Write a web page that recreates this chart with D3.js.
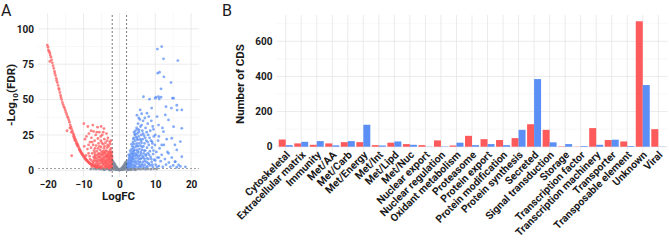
<!DOCTYPE html>
<html>
<head>
<meta charset="utf-8">
<script src="https://cdn.jsdelivr.net/npm/d3@7"></script>
<style>
  body { margin: 0; background: #fff; }
  text { font-family: Roboto, 'Noto Sans', sans-serif; fill: #1a1a1a; }
</style>
</head>
<body>
<script>
// ---- panel A: volcano points [logFC, -log10 FDR] ----
const downGenes = [
  [-20.1,88.5],[-19.9,87],[-19.8,85],[-19.6,84],[-19.4,83],[-19.3,81.5],[-19.4,77],[-19.1,80],[-18.9,78],[-18.7,76],
  [-18.5,74],[-18.3,72],[-18.1,70],[-18,68.5],[-17.8,67],[-17.6,65],[-17.5,63.5],[-17.3,62],[-17.1,60],[-16.9,58],
  [-16.8,57],[-16.6,55],[-16.4,53],[-16.3,51.5],[-16.1,50],[-15.9,48],[-15.7,46.5],[-15.5,45],[-15.3,44],[-15.1,42.5],
  [-14.9,41],[-14.7,39.5],[-14.5,38],[-14.3,37],[-14.1,35.5],[-13.9,34],[-13.7,32],[-13.5,30.5],[-13.3,29],[-13.1,27.5],
  [-12.9,26],[-12.7,25],[-12.5,23.5],[-12.3,22],[-12.1,21],[-11.9,19.5],[-11.7,18.5],[-11.5,17.5],[-11.3,16],[-11.1,15],
  [-10.9,14],[-10.7,13],[-10.5,12],[-10.3,11.5],[-10.1,10.8],[-9.9,10],[-9.7,9.2],[-9.5,8.5],[-9.3,7.8],[-9.1,7.2],
  [-8.9,6.6],[-8.7,6],[-8.5,5.5],[-8.3,5],[-8.1,4.6],[-7.9,4.2],[-7.7,3.9],[-7.5,3.6],[-7.3,3.3],[-7.1,3],
  [-6.9,2.8],[-6.7,2.6],[-6.5,2.4],[-6.3,2.2],[-6.1,2.1],[-5.9,2],[-5.7,1.9],[-5.5,1.8],
  [-13.8,30],[-13.4,27],[-12.8,24],[-12.4,21],[-12,19],[-11.6,17],[-11.2,14.5],[-10.8,13],[-10.4,11],[-10,9.5],
  [-9.6,8],[-9.2,7],[-8.8,6],[-8.4,5.2],[-8,4.4],[-7.6,3.7],[-7.2,3.2],[-6.8,2.9],[-6.4,2.6],[-6,2.4],
  [-12.6,22.5],[-11.8,18],[-11,14],[-10.6,12.2],[-13.3,10.3],[-14.6,28],
  [-9.9,33],[-8.8,31],[-7.4,32],[-6.1,30.5],[-5.1,31],[-4.3,29.5],[-9.6,22],[-9.8,17],[-8.5,26],[-7.2,27.5],
  [-6.6,25],[-5.6,27],[-4.8,25],[-3.6,26],[-8.9,15],[-8.2,20],[-7.8,23],[-6.9,21],[-6,22.5],[-5.2,21],
  [-4.2,22],[-3.4,21],[-2.6,18.5],[-8.6,12],[-7.9,16],[-7.3,18],[-6.5,17.5],[-5.8,19],[-4.5,18.5],[-3.9,19.5],
  [-3,17],[-2.3,15.5],
  [-9.3,10.5],[-8.3,10],[-7.6,12],[-7.1,14],[-6.8,11],[-6.3,13.5],[-6,15.5],[-5.7,12],[-5.4,14.5],[-5.1,16.5],
  [-4.9,11],[-4.6,13.5],[-4.3,15.5],[-4,12],[-3.7,14],[-3.4,16],[-3.2,11],[-2.9,13],[-2.6,14.5],[-2.3,12],[-2.1,10],
  [-7.4,5],[-7,7],[-6.7,4.5],[-6.5,8.5],[-6.2,6],[-6,3.5],[-5.9,9.5],[-5.7,7],[-5.5,4.5],[-5.4,10],
  [-5.2,8],[-5,5.5],[-4.9,3],[-4.8,9],[-4.6,6.5],[-4.5,4],[-4.4,10.5],[-4.2,8],[-4.1,2.5],[-4,5.5],
  [-3.9,9.5],[-3.8,7],[-3.7,3.5],[-3.6,11],[-3.5,5],[-3.4,8.5],[-3.3,2.2],[-3.2,6.5],[-3.1,9.5],[-3,4],
  [-2.9,7.5],[-2.8,11],[-2.8,2],[-2.7,5.5],[-2.6,8.5],[-2.5,3.5],[-2.4,10],[-2.4,6.5],[-2.3,2.5],[-2.2,8],
  [-2.2,4.5],[-2.1,6],[-2.1,1.8],[-2.05,9],[-3.6,1.6],[-4.6,1.7],[-5.4,1.8],[-6.6,6.5],[-7.2,9.5],[-7.8,7],
  [-8.2,8],[-5.8,11.5],[-6.9,12.5],[-4.2,12.5],[-3.3,13],[-5,13],[-2.5,12.8],[-3.9,3.2],[-3.1,1.8],[-2.6,1.5],
  [-4.3,4.5],[-5.3,2.6],[-6.3,2.8],[-4.7,7.8],[-3.5,9.8],[-2.3,4],[-3.8,5.2],[-2.7,3],[-4.8,1.5],
  [-7.7,2.5],[-7.3,6],[-6.9,8.5],[-6.7,10],[-6.4,4],[-6.2,11],[-6.1,7.5],[-5.9,5],[-5.6,9],[-5.5,2.5],
  [-5.3,6.5],[-5.1,11.5],[-4.9,7],[-4.7,5],[-4.5,12],[-4.3,9],[-4.1,6.5],[-3.9,13.5],[-3.8,2],[-3.7,10],
  [-3.5,7],[-3.4,3.5],[-3.3,11.5],[-3.1,5],[-3,8],[-2.9,2.8],[-2.8,9.5],[-2.7,12.5],[-2.6,6],[-2.5,10.5],
  [-2.4,2],[-2.3,7.5],[-2.2,11],[-2.15,3.5],[-2.1,13],[-5.6,17],[-4.9,19.5],[-4.1,17],[-3.3,18],[-2.7,20],
  [-6.8,15.5],[-7.6,20],[-8.6,18],[-9.2,24],[-6.3,27],[-5.2,24],[-4.5,27],[-3.2,23],[-2.4,21],[-7.9,28]
]

const upGenes = [
  [2.1,1.5],[2.2,3],[2.3,2],[2.4,4.5],[2.5,2.5],[2.6,6],[2.7,3.5],[2.8,8],[2.9,5],[3,2],
  [3,10],[3.1,7],[3.2,3.5],[3.2,12.5],[3.3,9],[3.4,5.5],[3.4,15],[3.5,2.5],[3.5,11.5],[3.6,7.5],
  [3.6,17],[3.7,4],[3.7,13.5],[3.8,9.5],[3.8,20],[3.9,6],[3.9,16],[4,2],[4,11.5],[4,23],
  [4.1,8],[4.1,18.5],[4.2,4],[4.2,14],[4.3,25.5],[4.3,10],[4.4,21],[4.4,6.5],[4.5,16.5],[4.5,28],
  [4.6,2.5],[4.6,12],[4.7,23.5],[4.7,8.5],[4.8,19],[4.8,30],[4.9,4.5],[4.9,14.5],[5,26],[5,10.5],
  [5.1,21.5],[5.1,6.5],[5.2,33],[5.2,17],[5.3,2],[5.3,12.5],[5.4,24],[5.4,8],[5.5,28.5],[5.5,19],
  [5.6,4],[5.6,15],[5.7,36],[5.7,10.5],[5.8,22],[5.8,6],[5.9,31],[5.9,17.5],[6,13],[6,2.5],
  [6.1,25],[6.1,8.5],[6.2,19.5],[6.3,4.5],[6.3,14.5],[6.4,28],[6.5,10],[6.5,22],[6.6,6],[6.7,17],
  [6.8,2],[6.8,12],[6.9,24.5],[7,8],[7,19],[7.1,4],[7.2,14],[7.3,30],[7.4,10.5],[7.5,21],
  [7.6,6],[7.7,16],[7.8,2.8],[7.9,12],[8,25],[8.1,8],[8.2,18],[8.3,4.5],[8.5,13.5],[8.6,28],
  [8.7,9.5],[8.8,21],[9,6],[9.1,16],[9.3,2.5],[9.4,11.5],[9.6,24],[9.7,7.5],[9.9,18],[10.1,4],
  [10.3,13],[10.6,9],[10.8,21],[11,3],[11.2,15.5],[11.5,6.5],[11.8,11],[12.1,2.5],[12.4,18],[12.7,8],
  [13,4],[13.4,13],[13.8,5.5],[14.2,2.5],[14.6,9],[15,3.5],[15.5,6],[16,2.2],[16.5,3.8],[17,2.8],[18.4,2.5],
  [4.9,39],[5.4,37],[5.8,42.7],[6.2,40],[6.7,52],[7.7,40.4],[8.4,50.3],[10,51],[10.9,52],[11.1,50.5],
  [11.6,51.7],[14.8,51],[15.1,51],[10.2,51.7],[10.6,85.7],[11.8,87.5],[12.3,78.8],[16.3,77.6],[11.2,69.4],[10.7,68.7],
  [12.4,66.1],[14.4,62],[11.6,57.6],[16,46],[16.1,42.6],[17.4,42.7],[12.8,39.2],[13.7,35.6],[10.9,32],[15.1,30.9],
  [17.4,29.7],[12.3,27.3],[10,25],[14.6,22.7],[17,20.3],[9.1,20.3],[11.8,17.9],[16,14.4],[13.7,12],[17.4,9.6],
  [15.6,6.1],[8.9,35],[9.5,29],[7.9,33],[6.6,35],[9,44],[13,45],[14.5,44],[8.2,38],[10.5,38],
  [12,30],[13.2,22],[15.5,18],[11,24],[9.3,31],[7.1,37],
  [2.3,5],[2.5,7],[2.7,9],[2.9,11],[3.1,4.5],[3.3,6.5],[3.5,8.5],[3.7,10.5],[3.9,12.5],[4.1,14.5],
  [4.3,3],[4.5,5.5],[4.7,11],[4.9,17.5],[5.1,13.5],[5.3,9.5],[5.5,5.5],[5.7,3],[5.9,8],[6.1,11.5],
  [6.3,16.5],[6.5,3.5],[6.7,9],[6.9,14],[7.1,6.5],[7.3,11],[7.5,2],[7.7,8.5],[8,5],[8.3,11],
  [8.6,3.5],[8.9,8],[9.2,4],[9.5,14],[10,7],[10.5,2.5],[11,9],[3.4,18.5],[3.9,22],[4.4,25],
  [4.9,22.5],[5.4,27],[6,21],[6.6,26],[7.2,23],[7.9,20],[8.4,23],[5.1,29],[4.1,27],[3,14],
  [2.6,11],[6.2,32],[7.6,27],[9.2,19]
]

const nsGenes = [
  [-1.95,7],[-1.85,5.5],[-1.8,3.5],[-1.7,6],[-1.6,4.5],[-1.5,2.5],[-1.45,5],[-1.35,3.5],[-1.2,4],[-1.15,2],
  [-1.05,3],[-0.9,2.5],[-0.8,1.5],[-0.7,2],[-0.55,1.2],[-0.45,0.8],[-0.3,0.5],[-0.15,0.3],[0,0.1],[0.15,0.3],
  [0.3,0.5],[0.45,0.9],[0.6,1.3],[0.75,1.8],[0.9,2.3],[1.05,1.5],[1.1,3],[1.25,2.2],[1.3,3.8],[1.45,2.8],
  [1.5,4.5],[1.6,1.8],[1.65,5.2],[1.75,3.5],[1.85,6],[1.95,4.5],[-1.9,1.5],[-1.3,1],[-0.9,0.8],[-0.6,0.5],
  [0.6,0.5],[0.9,0.8],[1.3,1],[1.9,1.6],[-1.6,0.6],[1.6,0.6],[-1,0.3],[1,0.3],
  [-8,0.9],[-7.2,1.1],[-6.5,0.8],[-5.8,1.1],[-5.2,0.7],[-4.6,1],[-4,0.6],[-3.5,1.1],[-3,0.8],[-2.5,0.5],
  [-2.2,1],[2.2,0.9],[2.6,0.5],[3,1],[3.5,0.7],[4,1.1],[4.6,0.6],[5.2,1],[5.9,0.8],[6.6,1.1],
  [7.3,0.7],[8,1],[8.8,0.8],[9.6,1.1],[10.4,0.9],[-2.3,0.3],[-2.8,0.2],[2.4,0.2],[3.2,0.3],[-4.3,0.3],[4.3,0.3]
]

const fcCut = 2
const fdrCut = 1.3
const volcanoXTicks = [-20, -10, 0, 10, 20]
const volcanoYTicks = [0, 25, 50, 75, 100]

// ---- panel B: CDS counts per category ----
const categories = [
  'Cytoskeletal', 'Extracellular matrix', 'Immunity', 'Met/AA', 'Met/Carb',
  'Met/Energy', 'Met/Int', 'Met/Lipd', 'Met/Nuc', 'Nuclear export',
  'Nuclear regulation', 'Oxidant metabolism', 'Proteasome', 'Protein export',
  'Protein modification', 'Protein synthesis', 'Secreted', 'Signal transduction',
  'Storage', 'Transcription factor', 'Transcription machinery', 'Transporter',
  'Transposable element', 'Unknown', 'Viral'
]
const redCounts = [41, 19, 11, 19, 26, 26, 9, 23, 15, 9, 36, 7, 62, 43, 38, 49, 128, 96, 2, 1, 106, 38, 30, 714, 100]
const blueCounts = [9, 28, 32, 8, 32, 125, 7, 30, 11, 1, 2, 23, 9, 15, 9, 96, 385, 25, 15, 4, 11, 40, 4, 351, 1]
const countTicks = [0, 200, 400, 600]

const red = '#fd5a5c'
const blue = '#5b8ff5'
const gray = '#7d8a9b'
const gridMajor = '#e6e6e6'
const gridMinor = '#f3f3f3'

const width = 669
const height = 240

const svg = d3.select('body').append('svg')
  .attr('width', width)
  .attr('height', height)

// panel letters
svg.append('text').attr('x', 1).attr('y', 16).style('font-size', '16px').text('A')
svg.append('text').attr('x', 222).attr('y', 16).style('font-size', '16px').text('B')

// ================= panel A =================
const xA = d3.scaleLinear().domain([-22.7, 22.2]).range([38, 199])
const yA = d3.scaleLinear().domain([-4.7, 111.2]).range([177, 13])

const gA = svg.append('g')

// minor + major grid
const xMinorA = [-15, -5, 5, 15]
const yMinorA = [12.5, 37.5, 62.5, 87.5]
gA.selectAll('.vminor').data(xMinorA).enter().append('line')
  .attr('x1', d => xA(d)).attr('x2', d => xA(d))
  .attr('y1', yA.range()[0]).attr('y2', yA.range()[1])
  .style('stroke', gridMinor).style('stroke-width', 0.6)
gA.selectAll('.hminor').data(yMinorA).enter().append('line')
  .attr('x1', xA.range()[0]).attr('x2', xA.range()[1])
  .attr('y1', d => yA(d)).attr('y2', d => yA(d))
  .style('stroke', gridMinor).style('stroke-width', 0.6)
gA.selectAll('.vmajor').data(volcanoXTicks).enter().append('line')
  .attr('x1', d => xA(d)).attr('x2', d => xA(d))
  .attr('y1', yA.range()[0]).attr('y2', yA.range()[1])
  .style('stroke', gridMajor).style('stroke-width', 0.8)
gA.selectAll('.hmajor').data(volcanoYTicks).enter().append('line')
  .attr('x1', xA.range()[0]).attr('x2', xA.range()[1])
  .attr('y1', d => yA(d)).attr('y2', d => yA(d))
  .style('stroke', gridMajor).style('stroke-width', 0.8)

// points
const dot = (data, color, op) =>
  gA.append('g').selectAll('circle').data(data).enter().append('circle')
    .attr('cx', d => xA(d[0]))
    .attr('cy', d => yA(d[1]))
    .attr('r', 1.4)
    .style('fill', color)
    .style('fill-opacity', op)

dot(nsGenes, gray, 0.8)
dot(downGenes, red, 0.75)
dot(upGenes, blue, 0.75)

// threshold lines
gA.selectAll('.vcut').data([-fcCut, fcCut]).enter().append('line')
  .attr('x1', d => xA(d)).attr('x2', d => xA(d))
  .attr('y1', yA.range()[0]).attr('y2', yA.range()[1])
  .style('stroke', '#555').style('stroke-width', 0.8).style('stroke-dasharray', '2,2')
gA.append('line')
  .attr('x1', xA.range()[0]).attr('x2', xA.range()[1])
  .attr('y1', yA(fdrCut)).attr('y2', yA(fdrCut))
  .style('stroke', '#888').style('stroke-width', 0.8).style('stroke-dasharray', '2,2')

// axes (tick labels only, like theme_minimal)
const xAxisA = gA.append('g').attr('transform', `translate(0,${yA.range()[0]})`)
  .call(d3.axisBottom(xA).tickValues(volcanoXTicks).tickSize(0).tickPadding(4))
const yAxisA = gA.append('g').attr('transform', `translate(${xA.range()[0]},0)`)
  .call(d3.axisLeft(yA).tickValues(volcanoYTicks).tickSize(0).tickPadding(4))
;[xAxisA, yAxisA].forEach(a => {
  a.select('.domain').remove()
  a.selectAll('text').style('font-size', '10px').style('font-weight', 'bold')
    .style('fill', '#1a1a1a').style('font-family', 'Roboto, sans-serif')
})

gA.append('text')
  .attr('x', (xA.range()[0] + xA.range()[1]) / 2)
  .attr('y', 200)
  .style('text-anchor', 'middle')
  .style('font-size', '11.5px')
  .style('font-weight', 'bold')
  .text('LogFC')

const yTitleA = gA.append('text')
  .attr('transform', `translate(15,${(yA.range()[0] + yA.range()[1]) / 2}) rotate(-90)`)
  .style('text-anchor', 'middle')
  .style('font-size', '11.5px')
  .style('font-weight', 'bold')
yTitleA.append('tspan').text('-Log')
yTitleA.append('tspan').attr('dy', 3).style('font-size', '8px').text('10')
yTitleA.append('tspan').attr('dy', -3).text('(FDR)')

// ================= panel B =================
const xB = d3.scalePoint().domain(categories).range([276.4, 667.6]).padding(0.6)
const yB = d3.scaleLinear().domain([-35.7, 749.7]).range([153, 15])
const barW = xB.step() * 0.45

const gB = svg.append('g')

const yMinorB = [100, 300, 500, 700]
gB.selectAll('.hminor').data(yMinorB).enter().append('line')
  .attr('x1', xB.range()[0]).attr('x2', xB.range()[1])
  .attr('y1', d => yB(d)).attr('y2', d => yB(d))
  .style('stroke', gridMinor).style('stroke-width', 0.6)
gB.selectAll('.hmajor').data(countTicks).enter().append('line')
  .attr('x1', xB.range()[0]).attr('x2', xB.range()[1])
  .attr('y1', d => yB(d)).attr('y2', d => yB(d))
  .style('stroke', gridMajor).style('stroke-width', 0.8)
gB.selectAll('.vmajor').data(categories).enter().append('line')
  .attr('x1', d => xB(d)).attr('x2', d => xB(d))
  .attr('y1', yB.range()[0]).attr('y2', yB.range()[1])
  .style('stroke', gridMajor).style('stroke-width', 0.8)

const rows = categories.map((c, i) => ({ cat: c, red: redCounts[i], blue: blueCounts[i] }))

gB.selectAll('.barRed').data(rows).enter().append('rect')
  .attr('x', d => xB(d.cat) - barW)
  .attr('y', d => yB(d.red))
  .attr('width', barW)
  .attr('height', d => yB(0) - yB(d.red))
  .style('fill', red)

gB.selectAll('.barBlue').data(rows).enter().append('rect')
  .attr('x', d => xB(d.cat))
  .attr('y', d => yB(d.blue))
  .attr('width', barW)
  .attr('height', d => yB(0) - yB(d.blue))
  .style('fill', blue)

const yAxisB = gB.append('g').attr('transform', `translate(${xB.range()[0]},0)`)
  .call(d3.axisLeft(yB).tickValues(countTicks).tickSize(0).tickPadding(4))
yAxisB.select('.domain').remove()
yAxisB.selectAll('text').style('font-size', '10px').style('font-weight', 'bold')
  .style('fill', '#1a1a1a').style('font-family', 'Roboto, sans-serif')

const xAxisB = gB.append('g').attr('transform', `translate(0,${yB.range()[0]})`)
  .call(d3.axisBottom(xB).tickSize(0).tickPadding(0))
xAxisB.select('.domain').remove()
xAxisB.selectAll('text')
  .attr('y', 0).attr('dy', 0)
  .attr('transform', 'translate(2,0) rotate(-45)')
  .style('text-anchor', 'end')
  .style('dominant-baseline', 'central')
  .style('font-size', '10.5px')
  .style('font-weight', 'bold')
  .style('fill', '#1a1a1a')
  .style('font-family', 'Roboto, sans-serif')

gB.append('text')
  .attr('transform', `translate(244,${(yB.range()[0] + yB.range()[1]) / 2}) rotate(-90)`)
  .style('text-anchor', 'middle')
  .style('font-size', '11.5px')
  .style('font-weight', 'bold')
  .text('Number of CDS')
</script>
</body>
</html>
